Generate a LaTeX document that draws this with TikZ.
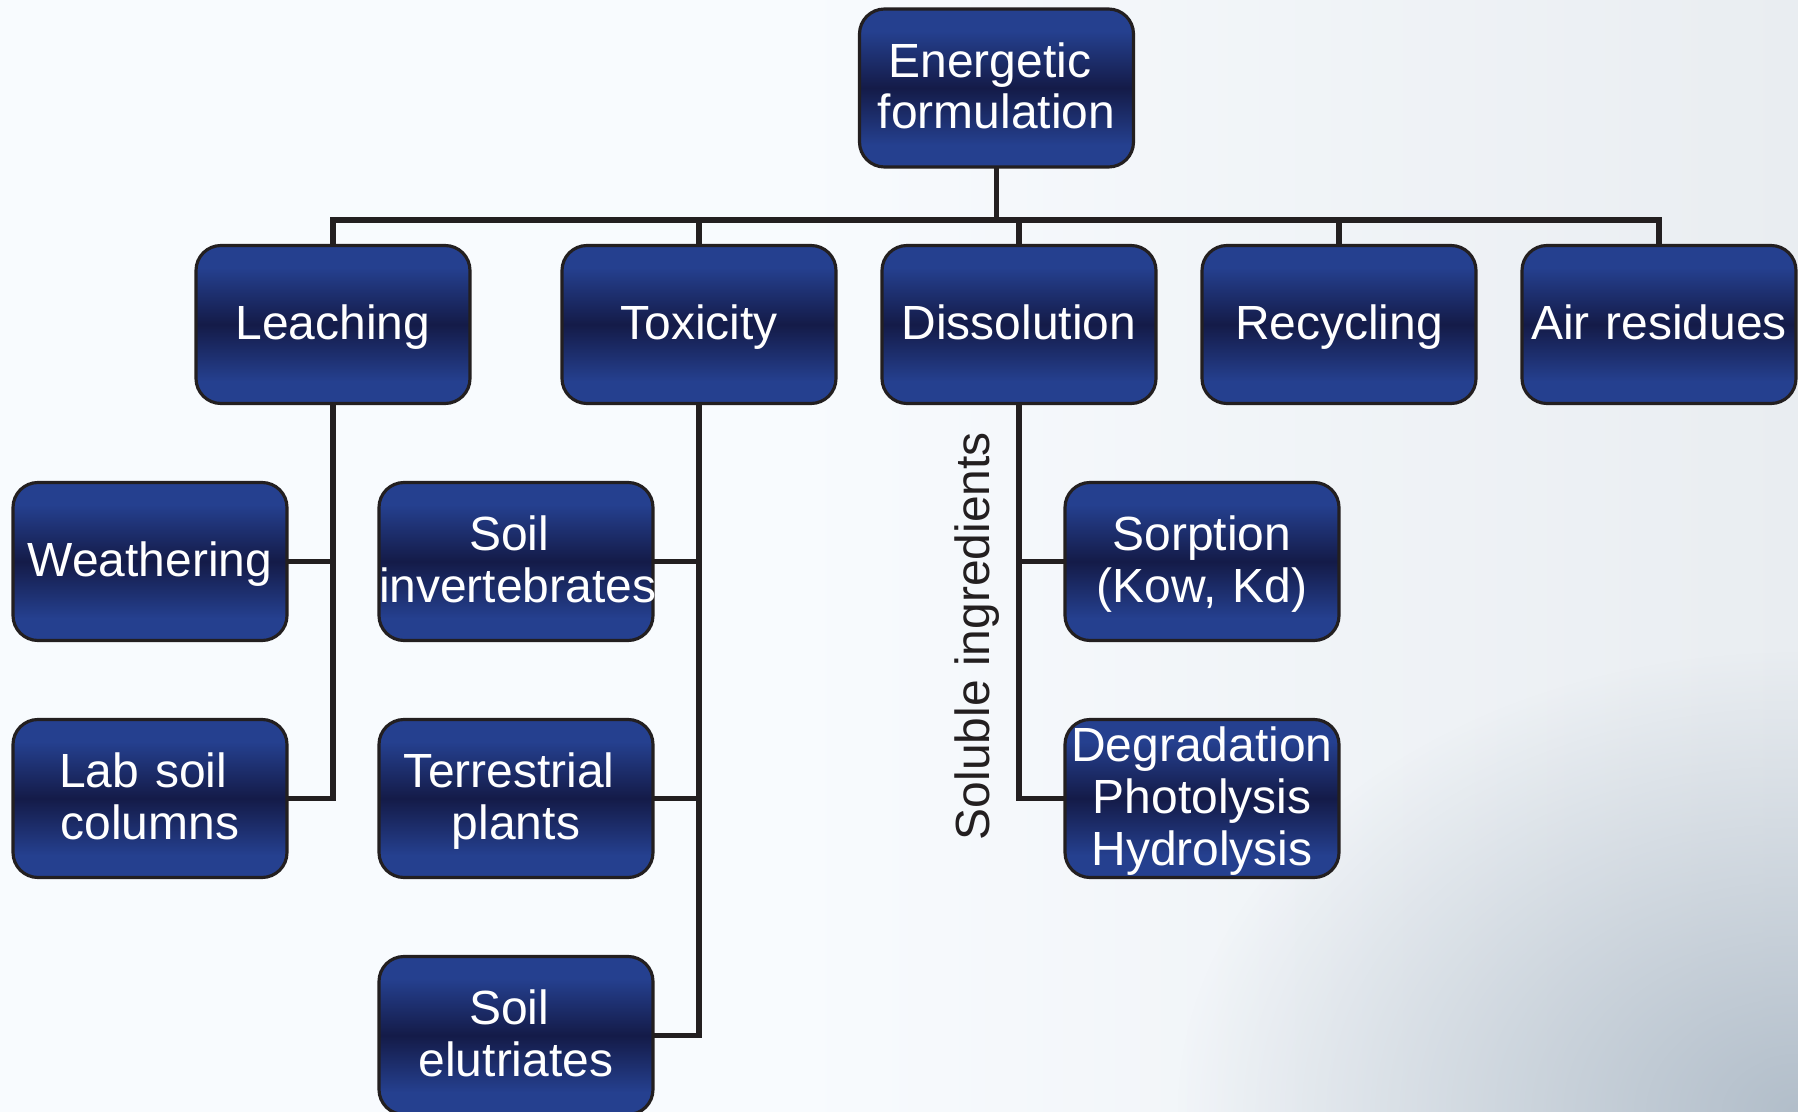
\documentclass[tikz,border=0pt]{standalone}
\usepackage{fontspec}
\setmainfont{Liberation Sans}
\usetikzlibrary{positioning,calc,fadings}

\definecolor{boxblue}{RGB}{37,64,143}
\definecolor{boxnavy}{RGB}{20,27,72}
\definecolor{lineink}{RGB}{35,31,32}
\definecolor{bgpale}{RGB}{248,251,254}
\definecolor{bgright}{RGB}{233,237,241}
\definecolor{bgshadow}{RGB}{178,190,202}

\pgfdeclareverticalshading{boxshade}{100bp}{color(0bp)=(boxblue); color(32bp)=(boxblue); color(50bp)=(boxnavy); color(68bp)=(boxblue); color(100bp)=(boxblue)}
\pgfdeclarehorizontalshading{bgshade}{100bp}{color(0bp)=(bgpale); color(47bp)=(bgpale); color(75bp)=(bgright); color(100bp)=(bgright)}
\tikzfading[name=cornerfade, inner color=transparent!0, outer color=transparent!100]

\newcommand{\boxstrut}{\rule[-2.9pt]{0pt}{14.3pt}}
\newcommand{\trailsp}{\kern0.28em}

\begin{document}
\begin{tikzpicture}[
    box/.style={shade, shading=boxshade, draw=lineink, line width=0.9pt,
      rounded corners=0.25cm, text=white, text width=2.74cm, align=center,
      minimum height=1.58cm, inner xsep=0pt, inner ysep=0pt, outer sep=0pt,
      font=\fontsize{13.65}{14.7}\selectfont,
      execute at begin node=\boxstrut, execute at end node=\boxstrut},
    link/.style={draw=lineink, line width=1.6pt},
  ]

    % background
    \shade[shading=bgshade] (0,0) rectangle (17.98,-11.12);
    \begin{scope}
      \clip (0,0) rectangle (17.98,-11.12);
      \fill[bgshadow, path fading=cornerfade] (17.98,-11.12) ellipse (6.2cm and 4.6cm);
    \end{scope}
    \useasboundingbox (0,0) rectangle (17.98,-11.12);

    \node[box] (top) at (9.965,-0.88) {Energetic\trailsp\\formulation};

    \node[box] (leach) at (3.33,-3.245) {Leaching};
    \node[box, right=0.92cm of leach] (tox) {Toxicity};
    \node[box, right=0.46cm of tox] (diss) {Dissolution};
    \node[box, right=0.46cm of diss] (recyc) {Recycling};
    \node[box, right=0.46cm of recyc] (air) {Air residues};

    \node[box] (weather) at ($(leach)+(-1.83,-2.37)$) {Weathering};
    \node[box, below=0.79cm of weather] (labsoil) {Lab soil\trailsp\\columns};

    \node[box] (soilinv) at ($(tox)+(-1.83,-2.37)$) {Soil\trailsp\\invertebrates};
    \node[box, below=0.79cm of soilinv] (plants) {Terrestrial\trailsp\\plants};
    \node[box, below=0.79cm of plants] (elutr) {Soil\trailsp\\elutriates};

    \node[box] (sorp) at ($(diss)+(1.83,-2.37)$) {Sorption\\(Kow, Kd)};
    \node[box, below=0.79cm of sorp] (degr) {Degradation\\Photolysis\\Hydrolysis};

    \node[rotate=90, inner sep=0pt, text=lineink, font=\fontsize{13.65}{14.7}\selectfont]
      (soluble) at ($(diss)+(-0.415,-3.115)$) {Soluble ingredients};

    % tree lines
    \draw[link] (top.south) -- ++(0,-0.53) coordinate (bus);
    \foreach \n in {leach,tox,diss,recyc,air}
      \draw[link] (bus) -| (\n.north);
    \foreach \n in {weather,labsoil}
      \draw[link] (leach.south) |- (\n.east);
    \foreach \n in {soilinv,plants,elutr}
      \draw[link] (tox.south) |- (\n.east);
    \foreach \n in {sorp,degr}
      \draw[link] (diss.south) |- (\n.west);
\end{tikzpicture}
\end{document}
